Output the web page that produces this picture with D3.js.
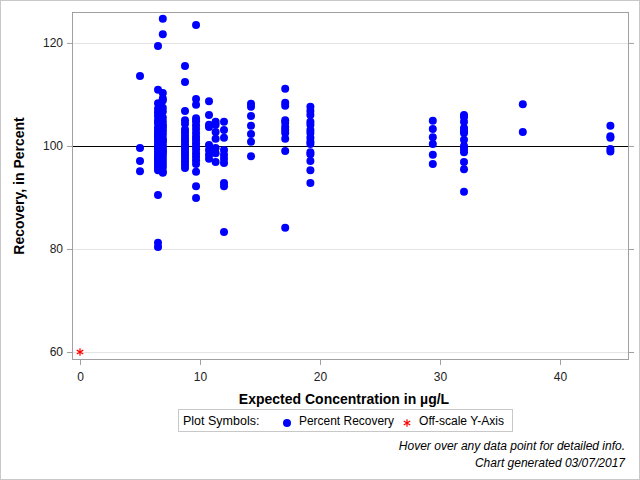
<!DOCTYPE html>
<html><head><meta charset="utf-8">
<script src="https://cdn.jsdelivr.net/npm/d3@7"></script>
<style>body{margin:0;background:#fff}svg{display:block;font-family:Arial,"Liberation Sans",sans-serif}</style>
</head><body><svg id="c" width="640" height="480"></svg>
<script>
// Data: percent recovery values grouped by expected concentration
const conc05 = [113.6, 99.6, 97.1, 95.1];
const conc065 = [119.4, 110.9, 108.3, 107.2, 106.5, 105.8, 105.0, 104.4, 103.6, 103.0, 102.4, 102.0, 101.8, 101.2, 100.7, 100.1, 99.8, 99.6, 99.0, 98.5, 98.0, 97.8, 97.4, 96.9, 96.3, 95.8, 95.3, 90.5, 81.2, 80.4];
const conc069 = [124.7, 121.7, 110.3, 109.2, 108.8, 107.4, 106.7, 105.5, 104.8, 104.1, 103.8, 103.3, 102.8, 102.2, 101.5, 101.0, 100.9, 100.3, 99.7, 99.2, 98.9, 98.6, 98.1, 97.5, 97.0, 96.4, 95.8, 95.0, 94.8];
const conc0875 = [115.5, 112.4, 106.8, 105.0, 104.3, 103.2, 102.6, 102.0, 101.4, 100.9, 100.3, 99.8, 99.2, 98.7, 98.2, 97.6, 97.0, 96.4, 95.7];
const conc0967 = [123.5, 109.1, 108.0, 105.4, 104.8, 104.0, 103.3, 102.5, 101.8, 101.2, 100.5, 99.9, 99.3, 98.6, 97.9, 97.2, 96.5, 95.0, 92.2, 89.9];
const conc1075 = [108.7, 106.0, 104.1, 103.7, 100.2, 99.2, 98.3, 97.5];
const conc113 = [104.7, 104.1, 102.7, 101.4, 99.6, 98.6, 96.9];
const conc120 = [104.7, 103.1, 101.6, 99.2, 98.3, 97.5, 96.7, 92.8, 92.2, 83.3];
const conc1425 = [108.2, 107.6, 105.8, 103.9, 102.3, 100.8, 98.0];
const conc171 = [111.1, 108.4, 107.8, 105.0, 104.5, 103.7, 103.1, 102.5, 101.4, 99.0, 84.1];
const conc192 = [107.6, 106.8, 106.0, 104.7, 104.1, 103.1, 102.5, 101.6, 100.8, 100.4, 98.8, 98.4, 97.1, 95.3, 92.8];
const conc294 = [104.9, 103.3, 101.7, 100.4, 98.3, 96.5];
const conc320 = [106.0, 105.6, 104.7, 103.5, 102.9, 102.5, 101.2, 100.0, 99.4, 98.8, 96.9, 95.5, 91.1];
const conc369 = [108.1, 102.7];
const conc442 = [103.9, 101.9, 101.6, 99.4, 98.9];
const concentrations = [5.0, 6.5, 6.9, 8.75, 9.67, 10.75, 11.3, 12.0, 14.25, 17.1, 19.2, 29.4, 32.0, 36.9, 44.2];
const recoveries = [conc05, conc065, conc069, conc0875, conc0967, conc1075, conc113, conc120, conc1425, conc171, conc192, conc294, conc320, conc369, conc442];
const offscale = [[0, 60]];
const xTicks = [0, 10, 20, 30, 40];
const yTicks = [60, 80, 100, 120];
const refValue = 100;
const xTitle = "Expected Concentration in µg/L";
const yTitle = "Recovery, in Percent";
const legendTitle = "Plot Symbols:";
const legendLabels = ["Percent Recovery", "Off-scale Y-Axis"];
const notes = ["Hover over any data point for detailed info.", "Chart generated 03/07/2017"];

const points = [];
concentrations.forEach((c, i) => recoveries[i].forEach(v => points.push([c, v])));

const svg = d3.select("#c");
const L = 72, R = 629, T = 12, B = 360;
const x = d3.scaleLinear().domain([-0.667, 45.75]).range([L, R]);
const y = d3.scaleLinear().domain([58.45, 126.0]).range([B, T]);

svg.append("rect").attr("x", 0.5).attr("y", 0.5).attr("width", 639).attr("height", 479)
  .attr("fill", "#fff").attr("stroke", "#c8c8c8");

// gridlines
svg.append("g").selectAll("line").data(yTicks).join("line")
  .attr("x1", L).attr("x2", R).attr("y1", d => Math.round(y(d)) + 0.5).attr("y2", d => Math.round(y(d)) + 0.5)
  .attr("stroke", "#e4e4e4");

// reference line
svg.append("line").attr("x1", L).attr("x2", R)
  .attr("y1", Math.round(y(refValue)) + 0.5).attr("y2", Math.round(y(refValue)) + 0.5)
  .attr("stroke", "#000").attr("stroke-width", 1);

// axes
const ya = svg.append("g").attr("transform", `translate(${L},0)`)
  .call(d3.axisLeft(y).tickValues(yTicks).tickSize(5).tickPadding(4));
const ya2 = svg.append("g").attr("transform", `translate(${R},0)`)
  .call(d3.axisRight(y).tickValues(yTicks).tickSize(5).tickFormat(""));
const xa = svg.append("g").attr("transform", `translate(0,${B})`)
  .call(d3.axisBottom(x).tickValues(xTicks).tickSize(5).tickPadding(7));
[ya, ya2, xa].forEach(g => {
  g.select(".domain").remove();
  g.selectAll("line").attr("stroke", "#a0a0a0");
  g.selectAll("text").attr("font-size", 12).attr("fill", "#222").attr("font-family", "Arial, 'Liberation Sans', sans-serif");
});

// frame
svg.append("rect").attr("x", L + 0.5).attr("y", T + 0.5).attr("width", R - L - 1).attr("height", B - T - 1)
  .attr("fill", "none").attr("stroke", "#a0a0a0");

// points
svg.append("g").selectAll("circle").data(points).join("circle")
  .attr("cx", d => x(d[0])).attr("cy", d => y(d[1])).attr("r", 4).attr("fill", "#0000ff");

// off-scale
svg.append("g").selectAll("path").data(offscale).join("path")
  .attr("transform", d => `translate(${x(d[0])},${y(d[1])})`)
  .attr("d", d3.symbol(d3.symbolAsterisk, 40)).attr("fill", "none").attr("stroke", "#ff0000").attr("stroke-width", 1.2);

// titles
svg.append("text").attr("x", 344).attr("y", 404).attr("text-anchor", "middle")
  .attr("font-size", 14).attr("font-weight", "bold").attr("fill", "#000").text(xTitle);
svg.append("text").attr("transform", `translate(24,${(T + B) / 2}) rotate(-90)`).attr("text-anchor", "middle")
  .attr("font-size", 14).attr("font-weight", "bold").attr("fill", "#000").text(yTitle);

// legend
const lg = svg.append("g");
lg.append("rect").attr("x", 178.5).attr("y", 409.5).attr("width", 334).attr("height", 22)
  .attr("fill", "#fff").attr("stroke", "#c8c8c8");
lg.append("text").attr("x", 183).attr("y", 425).attr("font-size", 12.5).attr("fill", "#000").text(legendTitle);
lg.append("circle").attr("cx", 287).attr("cy", 423).attr("r", 4).attr("fill", "#0000ff");
lg.append("text").attr("x", 299).attr("y", 425).attr("font-size", 12.5).attr("fill", "#000")
  .attr("textLength", 95).attr("lengthAdjust", "spacingAndGlyphs").text(legendLabels[0]);
lg.append("path").attr("transform", "translate(407,423)").attr("d", d3.symbol(d3.symbolAsterisk, 40))
  .attr("fill", "none").attr("stroke", "#ff0000").attr("stroke-width", 1.2);
lg.append("text").attr("x", 419).attr("y", 425).attr("font-size", 12.5).attr("fill", "#000")
  .attr("textLength", 85).attr("lengthAdjust", "spacingAndGlyphs").text(legendLabels[1]);

// notes
svg.append("g").selectAll("text").data(notes).join("text")
  .attr("x", 625).attr("y", (d, i) => 450 + i * 17).attr("text-anchor", "end")
  .attr("font-size", 12).attr("font-style", "italic").attr("fill", "#000").text(d => d);
</script></body></html>
